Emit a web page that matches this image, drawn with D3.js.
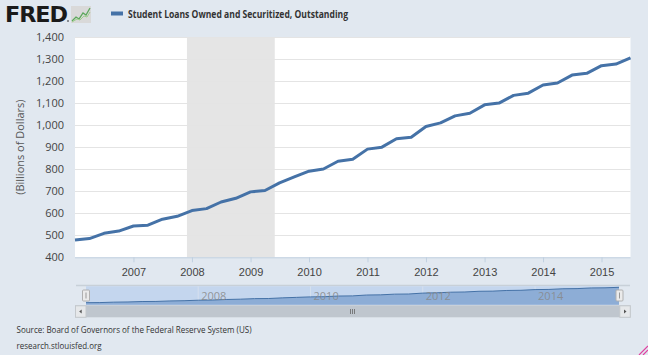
<!DOCTYPE html>
<html><head><meta charset="utf-8">
<script src="https://cdn.jsdelivr.net/npm/d3@7"></script>
<style>
html,body{margin:0;padding:0;background:#e1e8f0;}
svg{display:block;font-family:"Open Sans","Liberation Sans",sans-serif;}
</style></head>
<body><svg id="c" width="648" height="355"></svg>
<script>
// ---- data ----
const seriesName = "Student Loans Owned and Securitized, Outstanding";
const quarters = ["2006-01-01","2006-04-01","2006-07-01","2006-10-01","2007-01-01","2007-04-01","2007-07-01","2007-10-01",
"2008-01-01","2008-04-01","2008-07-01","2008-10-01","2009-01-01","2009-04-01","2009-07-01","2009-10-01",
"2010-01-01","2010-04-01","2010-07-01","2010-10-01","2011-01-01","2011-04-01","2011-07-01","2011-10-01",
"2012-01-01","2012-04-01","2012-07-01","2012-10-01","2013-01-01","2013-04-01","2013-07-01","2013-10-01",
"2014-01-01","2014-04-01","2014-07-01","2014-10-01","2015-01-01","2015-04-01","2015-07-01"];
const values = [479, 485, 509, 519, 542, 546, 573, 586, 612, 621, 651, 668, 697, 703, 738, 765,
791, 801, 836, 845, 891, 900, 938, 945, 994, 1010, 1042, 1054, 1092, 1100, 1135, 1145,
1182, 1191, 1227, 1235, 1270, 1277, 1305];
const yTicks = [400,500,600,700,800,900,1000,1100,1200,1300,1400];
const xTickYears = [2007,2008,2009,2010,2011,2012,2013,2014,2015];
const navTickYears = [2008,2010,2012,2014];
const recession = ["2007-12-01","2009-06-01"];
const yTitle = "(Billions of Dollars)";
const sourceText = "Source: Board of Governors of the Federal Reserve System (US)";
const siteText = "research.stlouisfed.org";

const parse = d3.timeParse("%Y-%m-%d");
const data = quarters.map((q,i)=>({date:parse(q), value:values[i]}));

const svg = d3.select("#c");
const W=648,H=355;
svg.append("rect").attr("width",W).attr("height",H).attr("fill","#e1e8f0");

// ---- plot ----
const pl=75, pr=630.5, pt=37, pb=257.3;
const x = d3.scaleTime().domain([data[0].date, data[data.length-1].date]).range([pl,pr]);
const y = d3.scaleLinear().domain([400,1400]).range([pb,pt]);

svg.append("rect").attr("x",pl).attr("y",pt).attr("width",pr-pl).attr("height",pb-pt).attr("fill","#fff");
svg.append("rect").attr("x",x(parse(recession[0]))).attr("y",pt)
  .attr("width",x(parse(recession[1]))-x(parse(recession[0]))).attr("height",pb-pt).attr("fill","#e5e5e5");

// grid
svg.append("g").selectAll("line").data(yTicks.slice(1)).join("line")
  .attr("x1",pl).attr("x2",pr).attr("y1",d=>Math.round(y(d))+0.5).attr("y2",d=>Math.round(y(d))+0.5)
  .attr("stroke","#e4e4e4").attr("stroke-width",1);

// y axis labels
const yAxis = d3.axisLeft(y).tickValues(yTicks).tickSize(0).tickPadding(0).tickFormat(d3.format(","));
const gy = svg.append("g").attr("transform",`translate(${pl-11},0)`).call(yAxis);
gy.select(".domain").remove();
gy.selectAll("text").attr("font-size","11px").attr("fill","#444").attr("font-family","'Open Sans',sans-serif");

// y title
svg.append("text").attr("transform",`translate(24,${(pt+pb)/2}) rotate(-90)`)
  .attr("text-anchor","middle").attr("font-size","11px").attr("fill","#555").text(yTitle);

// x axis
svg.append("line").attr("x1",pl).attr("x2",pr).attr("y1",pb+0.5).attr("y2",pb+0.5).attr("stroke","#c0d0e0");
const xAxis = d3.axisBottom(x).tickValues(xTickYears.map(yv=>new Date(yv,0,1)))
  .tickSize(5).tickPadding(6).tickFormat(d3.timeFormat("%Y"));
const gx = svg.append("g").attr("transform",`translate(0,${pb})`).call(xAxis);
gx.select(".domain").remove();
gx.selectAll("line").attr("stroke","#c0d0e0");
gx.selectAll("text").attr("font-size","11px").attr("fill","#444");

// series line
const line = d3.line().x(d=>x(d.date)).y(d=>y(d.value));
svg.append("path").datum(data).attr("d",line).attr("fill","none")
  .attr("stroke","#4572a7").attr("stroke-width",3).attr("stroke-linejoin","round");

// ---- header ----
svg.append("text").attr("x",5).attr("y",22).attr("font-family","'DejaVu Sans',sans-serif")
  .attr("font-weight","bold").attr("font-size","21px").attr("fill","#1a1a1a").attr("letter-spacing","-1")
  .attr("textLength",62).attr("lengthAdjust","spacingAndGlyphs").text("FRED");
svg.append("circle").attr("cx",68).attr("cy",21).attr("r",0.8).attr("fill","#1a1a1a");
const ic = svg.append("g").attr("transform","translate(71,6)");
ic.append("rect").attr("width",20).attr("height",17).attr("fill","#d9d9d9");
ic.append("path").attr("d","M1,15 L5,11 L8,13 L12,7 L15,9 L19,2").attr("fill","none").attr("stroke","#5ca85c").attr("stroke-width",1.3);
ic.append("path").attr("d","M1,16 L6,13 L9,14 L13,10 L16,11 L19,6").attr("fill","none").attr("stroke","#9ecf8e").attr("stroke-width",1);

svg.append("line").attr("x1",111).attr("x2",123).attr("y1",13.5).attr("y2",13.5).attr("stroke","#4572a7").attr("stroke-width",4);
svg.append("text").attr("x",128).attr("y",17.5).attr("font-size","10.5px").attr("font-weight","bold")
  .attr("fill","#333").attr("textLength",220).attr("lengthAdjust","spacingAndGlyphs").text(seriesName);

// ---- navigator ----
const nl=86, nr=619, nt=286.3, nb=304.7;
const xn = d3.scaleTime().domain(x.domain()).range([nl,nr]);
const yn = d3.scaleLinear().domain(d3.extent(values)).range([nb-2,nt+1]);
svg.append("line").attr("x1",76).attr("x2",630).attr("y1",285.5).attr("y2",285.5).attr("stroke","#c8d0d8").attr("stroke-width",1.5);
svg.append("rect").attr("x",nl).attr("y",nt).attr("width",nr-nl).attr("height",nb-nt).attr("fill","#c4d6ee");
svg.append("g").selectAll("line").data(navTickYears).join("line")
  .attr("x1",d=>xn(new Date(d,0,1))).attr("x2",d=>xn(new Date(d,0,1)))
  .attr("y1",nt).attr("y2",nb).attr("stroke","#d5e0ee").attr("stroke-width",1);
const area = d3.area().x(d=>xn(d.date)).y0(nb).y1(d=>yn(d.value));
svg.append("path").datum(data).attr("d",area).attr("fill","#8dadd6");
svg.append("path").datum(data).attr("d",d3.line().x(d=>xn(d.date)).y(d=>yn(d.value)))
  .attr("fill","none").attr("stroke","#4572a7").attr("stroke-width",1);
svg.append("g").selectAll("text").data(navTickYears).join("text")
  .attr("x",d=>xn(new Date(d,0,1))+3).attr("y",300).attr("font-size","11px").attr("fill","#888")
  .attr("fill-opacity",0.85).text(d=>d);
// handles
[[nl-3.5],[nr-3]].forEach(([hx])=>{
  svg.append("rect").attr("x",hx).attr("y",290).attr("width",7).attr("height",11).attr("rx",1)
    .attr("fill","#ebebeb").attr("stroke","#b0b0b0").attr("stroke-width",1);
  svg.append("line").attr("x1",hx+3.5).attr("x2",hx+3.5).attr("y1",292.5).attr("y2",298.5).attr("stroke","#999");
});
// scrollbar
svg.append("rect").attr("x",75).attr("y",305.3).attr("width",555.5).attr("height",12).attr("fill","#bfc6ce");
[[75],[619.3]].forEach(([bx],i)=>{
  svg.append("rect").attr("x",bx+0.5).attr("y",305.8).attr("width",10.5).attr("height",11.5)
    .attr("fill","#e6e8ea").attr("stroke","#c4c8cc");
  const cx=bx+5.7, cy=311.5;
  svg.append("path").attr("d", i===0?`M${cx-1.5},${cy} L${cx+1},${cy-2} L${cx+1},${cy+2}Z`:`M${cx+1.5},${cy} L${cx-1},${cy-2} L${cx-1},${cy+2}Z`)
    .attr("fill","#555");
});
[-2,0,2].forEach(o=>svg.append("line").attr("x1",352.5+o).attr("x2",352.5+o).attr("y1",309).attr("y2",314).attr("stroke","#666").attr("stroke-width",0.8));

// ---- footer ----
svg.append("text").attr("x",16.5).attr("y",333).attr("font-size","8.5px").attr("fill","#333")
  .attr("textLength",235).attr("lengthAdjust","spacingAndGlyphs").text(sourceText);
svg.append("text").attr("x",16.5).attr("y",349).attr("font-size","8.5px").attr("fill","#333")
  .attr("textLength",85).attr("lengthAdjust","spacingAndGlyphs").text(siteText);
svg.append("path").attr("d","M639,355 L648,346 M643,355 L648,350").attr("stroke","#e040a0").attr("stroke-width",1.2);
</script></body></html>
